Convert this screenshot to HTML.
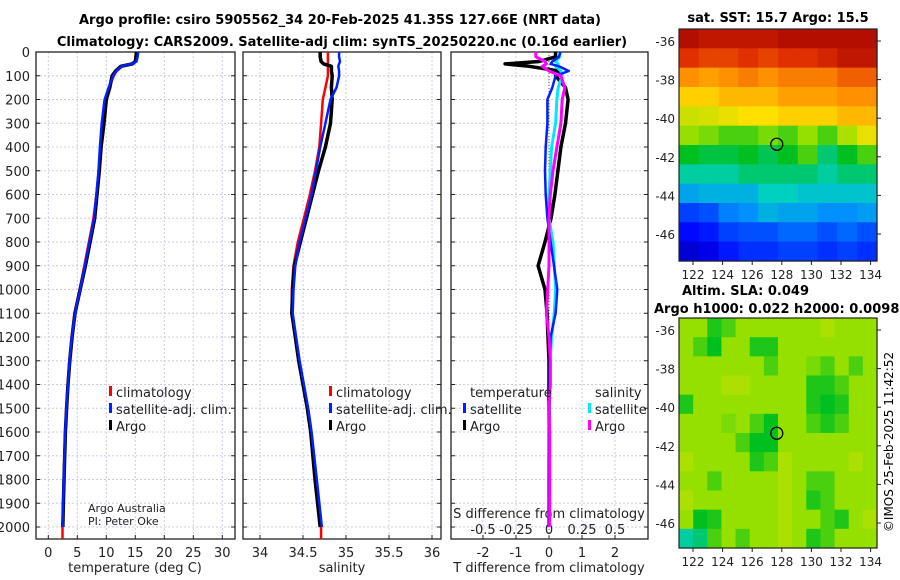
<!DOCTYPE html>
<html><head><meta charset="utf-8">
<style>
html,body{margin:0;padding:0;background:#fff;}
svg{display:block;font-family:"DejaVu Sans","Liberation Sans",sans-serif;}
</style></head>
<body>
<svg id="fig" width="900" height="580" viewBox="0 0 900 580" xmlns="http://www.w3.org/2000/svg">
<text x="340" y="24" text-anchor="middle" font-size="13" font-weight="bold">Argo profile: csiro 5905562_34 20-Feb-2025 41.35S 127.66E (NRT data)</text>
<text x="342" y="46" text-anchor="middle" font-size="13" font-weight="bold">Climatology: CARS2009. Satellite-adj clim: synTS_20250220.nc (0.16d earlier)</text>
<text x="778" y="22" text-anchor="middle" font-size="13" font-weight="bold">sat. SST: 15.7 Argo: 15.5</text>
<text x="682" y="295" font-size="13" font-weight="bold">Altim. SLA: 0.049</text>
<text x="654" y="313" font-size="13" font-weight="bold">Argo h1000: 0.022 h2000: 0.0098</text>
<text transform="translate(893,442) rotate(-90)" text-anchor="middle" font-size="12">©IMOS 25-Feb-2025 11:42:52</text>
<g id="layer"></g>
</svg>
<script>
const depths=[0,20,40,50,60,80,100,150,200,300,400,500,600,700,800,900,1000,1100,1200,1300,1400,1500,1600,1800,2000];
const tempArgo=[15.2,15.1,15.0,14.5,12.5,11.6,11.0,10.6,10.0,9.6,9.1,8.8,8.4,8.0,7.2,6.4,5.5,4.6,4.1,3.7,3.4,3.15,2.95,2.7,2.5];
const tempClim=[15.3,15.2,15.0,14.2,12.8,11.8,11.3,10.5,9.8,9.3,9.0,8.7,8.3,7.8,7.0,6.2,5.4,4.5,4.0,3.6,3.35,3.1,2.9,2.65,2.45];
const tempSat=[15.5,15.4,15.2,14.4,12.6,11.7,11.2,10.4,9.7,9.2,8.9,8.65,8.3,7.9,7.1,6.3,5.5,4.6,4.05,3.65,3.4,3.12,2.92,2.66,2.46];
const salArgo=[34.70,34.70,34.71,34.74,34.83,34.83,34.84,34.83,34.84,34.82,34.76,34.68,34.61,34.54,34.47,34.40,34.38,34.37,34.41,34.45,34.50,34.55,34.59,34.64,34.70];
const salClim=[34.79,34.79,34.79,34.79,34.79,34.79,34.79,34.76,34.73,34.71,34.69,34.64,34.58,34.51,34.44,34.39,34.37,34.37,34.41,34.45,34.50,34.55,34.59,34.65,34.71];
const salSat=[34.92,34.92,34.93,34.92,34.91,34.92,34.92,34.89,34.82,34.76,34.70,34.65,34.60,34.53,34.46,34.41,34.39,34.38,34.42,34.46,34.51,34.56,34.60,34.66,34.72];
const tDiffArgo=[0.2,0.2,-0.3,-1.33,-0.6,0.3,0.2,0.5,0.58,0.5,0.36,0.27,0.18,0.06,-0.12,-0.33,-0.12,-0.06,-0.03,0,0,0,0,0,0];
const tDiffSat=[0.35,0.3,0.1,0.05,0.3,0.6,0.2,0.1,-0.05,-0.05,-0.1,-0.12,-0.1,-0.05,0.05,0.15,0.25,0.2,0.05,0.02,0.02,0.01,0.01,0,0];
const sDiffSat=[0.083,0.08,0.05,0.07,0.05,0.09,0.1,0.07,0.06,0.05,0.02,0.01,0,0,0.03,0.04,0.05,0.04,0.02,0.01,0.01,0,0,0,0];
const sDiffArgo=[-0.1,-0.1,-0.03,-0.02,-0.05,0,0.09,0.12,0.1,0.09,0.06,0.03,0.01,0,0,0,-0.01,-0.02,0,0.01,0.01,0,0.005,0.005,0.005];
const depthTicks=[0,100,200,300,400,500,600,700,800,900,1000,1100,1200,1300,1400,1500,1600,1700,1800,1900,2000];
const tempTicks=[0,5,10,15,20,25,30];
const salTicks=[34,34.5,35,35.5,36];
const salTickLabels=["34","34.5","35","35.5","36"];
const tdTicks=[-2,-1,0,1,2];
const sdTicks=[-0.5,-0.25,0,0.25,0.5];
const sdTickLabels=["-0.5","-0.25","0","0.25","0.5"];
const lonTicks=[122,124,126,128,130,132,134];
const latTicks=[-36,-38,-40,-42,-44,-46];
const sstGrid=[
[.97,.95,.95,.95,.95,.97,.97,.97,.97,.97],
[.9,.88,.88,.9,.88,.9,.9,.92,.95,.95],
[.8,.78,.8,.82,.8,.82,.82,.82,.85,.85],
[.72,.72,.75,.75,.75,.78,.78,.78,.8,.8],
[.65,.66,.68,.7,.7,.72,.72,.72,.75,.75],
[.6,.58,.55,.55,.58,.55,.6,.55,.62,.68],
[.5,.48,.48,.5,.47,.5,.55,.45,.5,.55],
[.42,.42,.42,.45,.45,.45,.45,.42,.45,.45],
[.33,.35,.35,.35,.4,.4,.38,.38,.38,.38],
[.2,.22,.28,.3,.35,.33,.33,.3,.3,.32],
[.13,.15,.2,.22,.22,.25,.25,.22,.25,.22],
[.08,.1,.15,.18,.18,.2,.2,.18,.2,.18]];
const slaGrid=[
[.6,.6,.52,.55,.6,.6,.6,.6,.6,.6,.62,.6,.6,.6],
[.6,.55,.5,.6,.6,.52,.52,.6,.6,.6,.6,.6,.6,.6],
[.6,.6,.6,.6,.6,.6,.55,.6,.6,.58,.55,.6,.55,.6],
[.6,.6,.6,.62,.62,.6,.6,.6,.6,.52,.52,.55,.6,.6],
[.52,.6,.6,.6,.6,.6,.6,.6,.6,.52,.5,.52,.6,.6],
[.6,.6,.6,.58,.6,.55,.5,.6,.6,.55,.52,.55,.6,.6],
[.6,.6,.6,.6,.55,.5,.5,.6,.6,.6,.6,.6,.6,.6],
[.62,.6,.6,.6,.6,.52,.55,.62,.6,.6,.6,.6,.62,.6],
[.6,.6,.55,.6,.6,.6,.6,.62,.6,.55,.55,.6,.6,.6],
[.62,.6,.6,.6,.6,.6,.6,.62,.6,.52,.55,.6,.6,.6],
[.6,.5,.52,.6,.6,.6,.6,.62,.6,.6,.55,.52,.6,.62],
[.42,.45,.55,.6,.55,.6,.6,.62,.6,.52,.55,.6,.6,.6]];
const floatLon=127.66, floatLat=-41.35;

const NS="http://www.w3.org/2000/svg";
const layer=document.getElementById('layer');
function mk(tag,attrs,parent){const e=document.createElementNS(NS,tag);for(const k in attrs)e.setAttribute(k,attrs[k]);(parent||layer).appendChild(e);return e;}
const TOP=52,BOT=539;
const yD=d=>TOP+d*0.2375;
const panels=[
 {x0:36,x1:235,fx:v=>48.3+v*5.8},
 {x0:243,x1:441,fx:v=>260+(v-34)*86},
 {x0:451,x1:648,fx:v=>549+v*33}];
const sx=v=>549+v*4*33;

function gridAndFrame(p,xt,name){
  const g=mk('g',{});
  
  
  depthTicks.forEach(d=>{
    const l=mk('line',{x1:p.x0,x2:p.x1,y1:yD(d),y2:yD(d),stroke:'#c8cce8','stroke-dasharray':'2,2','stroke-width':1},g);
    
    mk('line',{x1:p.x0,x2:p.x0+4,y1:yD(d),y2:yD(d),stroke:'#222'},g);
    mk('line',{x1:p.x1-4,x2:p.x1,y1:yD(d),y2:yD(d),stroke:'#222'},g);
  });
  xt.forEach(v=>{
    const x=p.fx(v);
    const l=mk('line',{x1:x,x2:x,y1:TOP,y2:BOT,stroke:'#c8cce8','stroke-dasharray':'2,2','stroke-width':1},g);
    
    mk('line',{x1:x,x2:x,y1:BOT-4,y2:BOT,stroke:'#222'},g);
  });
  const r=mk('rect',{x:p.x0,y:TOP,width:p.x1-p.x0,height:BOT-TOP,fill:'none',stroke:'#222','stroke-width':1.3},g);
  
}
function txt(x,y,s,attrs,name){const t=mk('text',Object.assign({x:x,y:y,'font-size':13,fill:'#222'},attrs||{}));t.textContent=s;
  return t;}
function line(vals,fx,color,w,name){
  const pts=vals.map((v,i)=>fx(v).toFixed(1)+','+yD(depths[i]).toFixed(1)).join(' ');
  const pl=mk('polyline',{points:pts,fill:'none',stroke:color,'stroke-width':w,'stroke-linejoin':'round'});
  
}
gridAndFrame(panels[0],tempTicks,'temperature-panel');
gridAndFrame(panels[1],salTicks,'salinity-panel');
gridAndFrame(panels[2],tdTicks,'difference-panel');
depthTicks.forEach(d=>txt(30,yD(d)+5,String(d),{'text-anchor':'end'},'depth-tick-label'));
tempTicks.forEach(v=>txt(panels[0].fx(v),557,String(v),{'text-anchor':'middle'},'temperature-tick-label'));
salTicks.forEach((v,i)=>txt(panels[1].fx(v),557,salTickLabels[i],{'text-anchor':'middle'},'salinity-tick-label'));
tdTicks.forEach(v=>txt(panels[2].fx(v),557,String(v),{'text-anchor':'middle'},'t-diff-tick-label'));
sdTicks.forEach((v,i)=>txt(sx(v),534,sdTickLabels[i],{'text-anchor':'middle'},'s-diff-tick-label'));
txt(135,572,'temperature (deg C)',{'text-anchor':'middle'},'temperature-axis-title');
txt(342,572,'salinity',{'text-anchor':'middle'},'salinity-axis-title');
txt(549,572,'T difference from climatology',{'text-anchor':'middle'},'t-diff-axis-title');
txt(549,518,'S difference from climatology',{'text-anchor':'middle'},'s-diff-axis-title');
txt(88,512,'Argo Australia',{'font-size':11},'credit-line-1');
txt(88,525,'PI: Peter Oke',{'font-size':11},'credit-line-2');

// profiles
line(tempClim.concat([tempClim[tempClim.length-1]]),panels[0].fx,'#f00',2.5,'temperature-climatology-line');
line(tempArgo,panels[0].fx,'#000',3.5,'temperature-argo-line');
line(tempSat,panels[0].fx,'#0020ff',2.5,'temperature-satellite-line');
line(salClim,panels[1].fx,'#f00',2.5,'salinity-climatology-line');
line(salArgo,panels[1].fx,'#000',3.5,'salinity-argo-line');
line(salSat,panels[1].fx,'#0020ff',2.5,'salinity-satellite-line');
// clim extends to bottom
mk('line',{x1:panels[0].fx(tempClim[24]),x2:panels[0].fx(tempClim[24]),y1:yD(2000),y2:BOT,stroke:'#f00','stroke-width':2.5});
mk('line',{x1:panels[1].fx(salClim[24]),x2:panels[1].fx(salClim[24]),y1:yD(2000),y2:BOT,stroke:'#f00','stroke-width':2.5});
mk('line',{x1:549,x2:549,y1:TOP,y2:BOT,stroke:'#555','stroke-dasharray':'1,2','stroke-width':1});
line(tDiffArgo,panels[2].fx,'#000',3.5,'t-diff-argo-line');
line(sDiffSat,sx,'#00e8ff',3,'s-diff-satellite-line');
line(tDiffSat,panels[2].fx,'#0020ff',2.5,'t-diff-satellite-line');
line(sDiffArgo,sx,'#ff00ff',3,'s-diff-argo-line');

// legends
function legendEntry(x,y,color,label,name){
  const g=mk('g',{});
  
  mk('rect',{x:x,y:y-11,width:3,height:10,fill:color},g);
  const t=mk('text',{x:x+7,y:y,'font-size':13,fill:'#222'},g);t.textContent=label;
}
legendEntry(109,397,'#f00','climatology','legend-climatology');
legendEntry(109,414,'#0020ff','satellite-adj. clim.','legend-satellite-adj');
legendEntry(109,431,'#000','Argo','legend-argo');
legendEntry(329,397,'#f00','climatology','legend-climatology-sal');
legendEntry(329,414,'#0020ff','satellite-adj. clim.','legend-satellite-adj-sal');
legendEntry(329,431,'#000','Argo','legend-argo-sal');
txt(470,397,'temperature',{},'legend-temperature-heading');
legendEntry(463,414,'#0020ff','satellite','legend-t-satellite');
legendEntry(463,431,'#000','Argo','legend-t-argo');
txt(595,397,'salinity',{},'legend-salinity-heading');
legendEntry(588,414,'#00e8ff','satellite','legend-s-satellite');
legendEntry(588,431,'#ff00ff','Argo','legend-s-argo');

// colormap
const stops=[[0,[0,0,128]],[.12,[0,0,255]],[.3,[0,144,255]],[.4,[0,208,192]],[.5,[0,192,32]],[.6,[150,224,0]],[.7,[255,224,0]],[.8,[255,144,0]],[.9,[224,48,0]],[1,[160,0,0]]];
function cmap(v){for(let i=1;i<stops.length;i++){if(v<=stops[i][0]){const a=stops[i-1],b=stops[i],t=(v-a[0])/(b[0]-a[0]);
 return 'rgb('+a[1].map((c,k)=>Math.round(c+(b[1][k]-c)*t)).join(',')+')';}}return 'rgb(160,0,0)';}

function mapPanel(y0,y1,grid,name){
  const x0=679,x1=877;
  const lonX=l=>693+(l-122)*14.8;
  const latY=l=>(y0+12)+(-36-l)*19.3;
  const g=mk('g',{});
  const rows=grid.length,cols=grid[0].length,cw=(x1-x0)/cols,ch=(y1-y0)/rows;
  grid.forEach((row,r)=>row.forEach((v,c)=>{
    const cell=mk('rect',{x:(x0+c*cw).toFixed(2),y:(y0+r*ch).toFixed(2),width:(cw+0.6).toFixed(2),height:(ch+0.6).toFixed(2),fill:cmap(v)},g);
    
  }));
  mk('rect',{x:x0,y:y0,width:x1-x0,height:y1-y0,fill:'none',stroke:'#222','stroke-width':1.2},g);
  lonTicks.forEach(l=>{mk('line',{x1:lonX(l),x2:lonX(l),y1:y1,y2:y1+4,stroke:'#222'},g);
    const t=txt(lonX(l),y1+18,String(l),{'text-anchor':'middle','font-size':12},'lon-tick-label');});
  latTicks.forEach(l=>{mk('line',{x1:x1,x2:x1+4,y1:latY(l),y2:latY(l),stroke:'#222'},g);
    txt(x0-4,latY(l)+5,String(l),{'text-anchor':'end','font-size':12},'lat-tick-label');});
  const c=mk('circle',{cx:lonX(floatLon),cy:latY(floatLat),r:6,fill:'none',stroke:'#000','stroke-width':1.3},g);
  
}
mapPanel(29,261,sstGrid,'sst-map');
mapPanel(318,548,slaGrid,'sla-map');
</script>
</body></html>
